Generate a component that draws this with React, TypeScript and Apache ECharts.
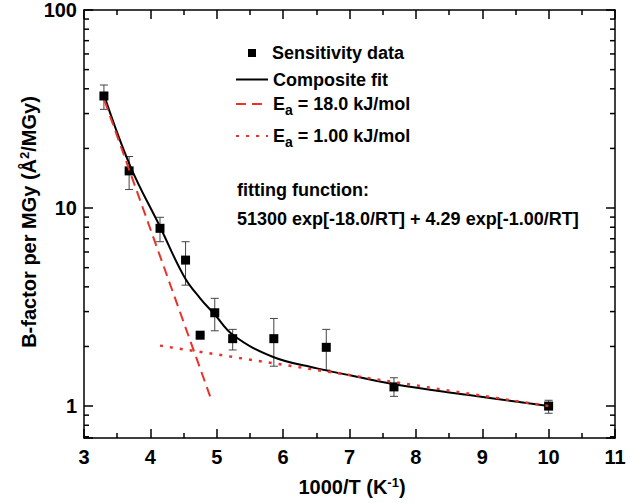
import React, { useEffect, useRef } from 'react';
import * as echarts from 'echarts';

// Measured data (1000/T in K^-1, B-factor per MGy)
const dataX = [3.30, 3.68, 4.145, 4.53, 4.75, 4.97, 5.24, 5.86, 6.65, 7.67, 10.0];
const dataY = [36.8, 15.4, 7.9, 5.46, 2.28, 2.96, 2.19, 2.19, 1.98, 1.25, 1.0];
const errLow = [31.5, 12.4, 6.76, 4.08, 2.28, 2.40, 1.92, 1.59, 1.52, 1.12, 0.92];
const errHigh = [41.8, 18.2, 8.98, 6.76, 2.28, 3.50, 2.44, 2.77, 2.44, 1.39, 1.07];

// Composite fit curve
const fitX = [3.31, 3.70, 4.145, 4.51, 4.75, 4.97, 5.25, 5.85, 6.51, 7.01, 7.67, 8.77, 10.0];
const fitY = [36.5, 16.2, 8.05, 4.5, 3.5, 2.9, 2.28, 1.77, 1.55, 1.43, 1.29, 1.14, 1.0];

// Single-activation-energy components (straight on log scale)
const highEaX = [3.31, 4.90];
const highEaY = [34.8, 1.12];
const lowEaX = [4.145, 10.0];
const lowEaY = [2.02, 1.0];

const yMajorLabels = [1, 10, 100];
const yMinorTicks = [0.7, 0.8, 0.9, 2, 3, 4, 5, 6, 7, 8, 9, 20, 30, 40, 50, 60, 70, 80, 90];

const names = {
  data: 'Sensitivity data',
  fit: 'Composite fit',
  high: 'Ea = 18.0 kJ/mol',
  low: 'Ea = 1.00 kJ/mol',
};

const FONT = 'Liberation Sans, Arial, Helvetica, sans-serif';
const RED = '#e8332a';

export default function App() {
  const ref = useRef<HTMLDivElement>(null);

  useEffect(() => {
    document.body.style.margin = '0';
    if (!ref.current) return;
    const chart = echarts.init(ref.current, null, { renderer: 'svg' });

    const axisLineStyle = { color: '#000', width: 1.5 };
    const legendText = {
      color: '#000',
      fontSize: 18,
      fontWeight: 'bold' as const,
      fontFamily: FONT,
      rich: {
        m: { color: '#000', fontSize: 18, fontWeight: 'bold', fontFamily: FONT },
        p: { color: '#000', fontSize: 18, fontWeight: 'bold', fontFamily: FONT, padding: [0, 0, 0, 11] },
        s: { color: '#000', fontSize: 14, fontWeight: 'bold', fontFamily: FONT, padding: [12, 0, 0, 0] },
      },
    };
    const titleRich = {
      t: { fill: '#000', fontSize: 20, fontWeight: 'bold', fontFamily: FONT },
      u: { fill: '#000', fontSize: 13, fontWeight: 'bold', fontFamily: FONT, padding: [0, 0, 10, 0] },
    };

    const xBase = {
      type: 'value' as const,
      min: 3,
      max: 11,
      interval: 1,
      axisLine: { show: true, onZero: false, lineStyle: axisLineStyle },
      axisTick: { show: true, inside: true, length: 9, lineStyle: axisLineStyle },
      minorTick: { show: true, splitNumber: 2, length: 5, lineStyle: axisLineStyle },
      splitLine: { show: false },
      minorSplitLine: { show: false },
    };
    const yBase = {
      type: 'log' as const,
      logBase: 10,
      min: 0.69,
      max: 100,
      axisLine: { show: true, onZero: false, lineStyle: axisLineStyle },
      axisTick: { show: true, inside: true, length: 9, lineStyle: axisLineStyle },
      splitLine: { show: false },
    };
    const lineLegend = {
      left: 235, padding: 0, itemWidth: 32, itemHeight: 14, selectedMode: false,
      textStyle: legendText, itemStyle: { opacity: 0 },
    };

    chart.setOption({
      animation: false,
      backgroundColor: '#fff',
      grid: { left: 84, right: 15, top: 10, bottom: 65, containLabel: false },
      xAxis: [
        {
          ...xBase,
          position: 'bottom',
          axisLabel: { margin: 9, color: '#000', fontSize: 20, fontWeight: 'bold', fontFamily: FONT },
        },
        { ...xBase, position: 'top', axisLabel: { show: false } },
      ],
      yAxis: [
        {
          ...yBase,
          position: 'left',
          axisLabel: {
            margin: 7,
            color: '#000',
            fontSize: 20,
            fontWeight: 'bold',
            fontFamily: FONT,
            formatter: (v: number) => {
              const hit = yMajorLabels.find((t) => Math.abs(t - v) / t < 1e-6);
              return hit !== undefined ? String(hit) : '';
            },
          },
        },
        { ...yBase, position: 'right', axisLabel: { show: false } },
      ],
      legend: [
        {
          data: [{ name: names.data, icon: 'rect' }], left: 248, top: 44, padding: 0,
          itemWidth: 8, itemHeight: 8, selectedMode: false, textStyle: legendText,
          itemStyle: { color: '#000', opacity: 1 },
          formatter: (n: string) => '{p|' + n + '}',
        },
        { ...lineLegend, data: [names.fit], top: 70.5 },
        { ...lineLegend, data: [names.high], top: 95, formatter: () => '{m|E}{s|a}{m| = 18.0 kJ/mol}' },
        { ...lineLegend, data: [names.low], top: 127, formatter: () => '{m|E}{s|a}{m| = 1.00 kJ/mol}' },
      ],
      graphic: [
        {
          type: 'text', x: 237, y: 190, z: 10,
          style: {
            text: 'fitting function:', fill: '#000', fontSize: 18, fontWeight: 'bold', fontFamily: FONT,
            align: 'left', verticalAlign: 'middle', textAlign: 'left', textVerticalAlign: 'middle',
          },
        },
        {
          type: 'text', x: 237, y: 219, z: 10,
          style: {
            text: '51300 exp[-18.0/RT] + 4.29 exp[-1.00/RT]', fill: '#000', fontSize: 18,
            fontWeight: 'bold', fontFamily: FONT,
            align: 'left', verticalAlign: 'middle', textAlign: 'left', textVerticalAlign: 'middle',
          },
        },
        {
          type: 'text', x: 29, y: 222, rotation: Math.PI / 2, z: 10,
          style: {
            text: '{t|B-factor per MGy (Å}{u|2}{t|/MGy)}', rich: titleRich,
            align: 'center', verticalAlign: 'middle', textAlign: 'center', textVerticalAlign: 'middle',
          },
        },
        {
          type: 'text', x: 352, y: 487, z: 10,
          style: {
            text: '{t|1000/T (K}{u|-1}{t|)}', rich: titleRich,
            align: 'center', verticalAlign: 'middle', textAlign: 'center', textVerticalAlign: 'middle',
          },
        },
      ],
      series: [
        {
          type: 'custom',
          name: 'yMinorTicks',
          xAxisIndex: 0,
          yAxisIndex: 0,
          silent: true,
          clip: false,
          data: yMinorTicks.map((v) => [3, v]),
          renderItem: (params: any, api: any) => {
            const cs = params.coordSys;
            const y = api.coord([api.value(0), api.value(1)])[1];
            const st = { stroke: '#000', lineWidth: 1.5 };
            return {
              type: 'group',
              children: [
                { type: 'line', shape: { x1: cs.x, y1: y, x2: cs.x + 5, y2: y }, style: st },
                { type: 'line', shape: { x1: cs.x + cs.width - 5, y1: y, x2: cs.x + cs.width, y2: y }, style: st },
              ],
            };
          },
          z: 1,
        },
        {
          type: 'custom',
          name: 'errorBars',
          xAxisIndex: 0,
          yAxisIndex: 0,
          silent: true,
          data: dataX.map((x, i) => [x, errLow[i], errHigh[i]]),
          renderItem: (params: any, api: any) => {
            const x = api.value(0);
            const lo = api.coord([x, api.value(1)]);
            const hi = api.coord([x, api.value(2)]);
            const st = { stroke: '#444', lineWidth: 1 };
            const cap = 4;
            return {
              type: 'group',
              children: [
                { type: 'line', shape: { x1: lo[0], y1: lo[1], x2: hi[0], y2: hi[1] }, style: st },
                { type: 'line', shape: { x1: lo[0] - cap, y1: lo[1], x2: lo[0] + cap, y2: lo[1] }, style: st },
                { type: 'line', shape: { x1: hi[0] - cap, y1: hi[1], x2: hi[0] + cap, y2: hi[1] }, style: st },
              ],
            };
          },
          z: 2,
        },
        {
          type: 'line',
          name: names.fit,
          data: fitX.map((x, i) => [x, fitY[i]]),
          symbol: 'none',
          smooth: 0.4,
          lineStyle: { color: '#000', width: 2 },
          itemStyle: { color: '#000' },
          z: 3,
        },
        {
          type: 'scatter',
          name: names.data,
          data: dataX.map((x, i) => [x, dataY[i]]),
          symbol: 'rect',
          symbolSize: 9,
          itemStyle: { color: '#000', opacity: 1 },
          z: 4,
        },
        {
          type: 'line',
          name: names.high,
          data: highEaX.map((x, i) => [x, highEaY[i]]),
          symbol: 'none',
          lineStyle: { color: RED, width: 2, type: [10, 6] },
          itemStyle: { color: RED },
          z: 5,
        },
        {
          type: 'line',
          name: names.low,
          data: lowEaX.map((x, i) => [x, lowEaY[i]]),
          symbol: 'none',
          lineStyle: { color: RED, width: 2.5, type: [3, 7] },
          itemStyle: { color: RED },
          z: 5,
        },
      ],
    });

    return () => chart.dispose();
  }, []);

  return <div ref={ref} style={{ width: 630, height: 503 }} />;
}
